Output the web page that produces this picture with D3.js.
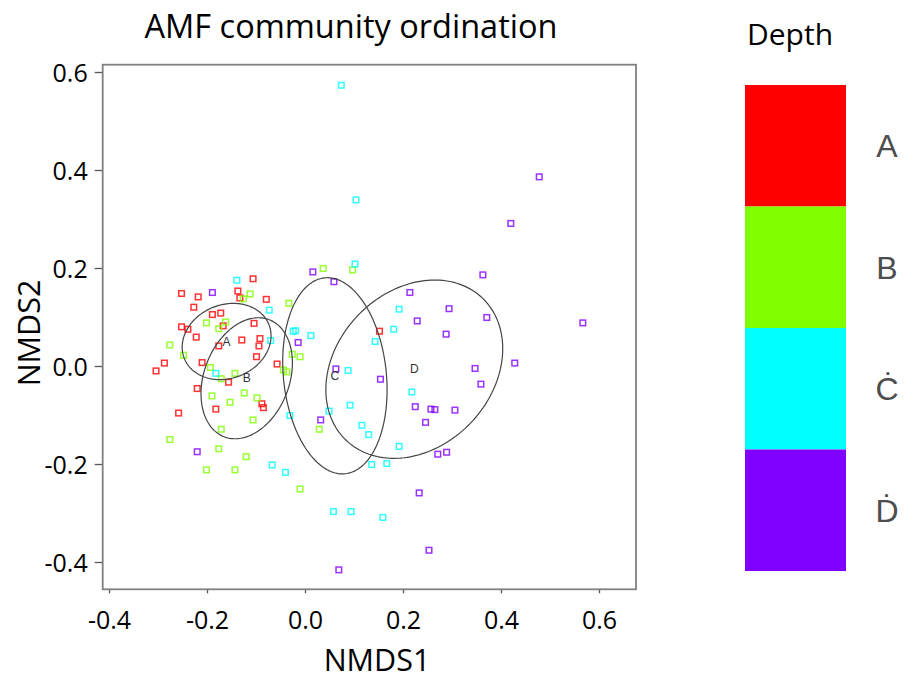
<!DOCTYPE html>
<html><head><meta charset="utf-8">
<script src="https://cdn.jsdelivr.net/npm/d3@7/dist/d3.min.js"></script>
<style>body{margin:0;background:#fff}</style>
</head><body><svg id="c" width="904" height="681"></svg>
<script>
// ---------- data ----------
const groups = ["A","B","C","D"];
const legendLabels = ["A","B","Ċ","Ḋ"];
const groupColors = ["#FF0000","#80FF00","#00FFFF","#8000FF"];
const xTicks = [-0.4,-0.2,0.0,0.2,0.4,0.6];
const yTicks = [-0.4,-0.2,0.0,0.2,0.4,0.6];

const pointsA = [[-0.106,0.178],[-0.252,0.148],[-0.218,0.141],[-0.137,0.153],[-0.133,0.139],[-0.079,0.136],
  [-0.227,0.120],[-0.189,0.105],[-0.172,0.108],[-0.167,0.082],[-0.104,0.087],[-0.252,0.080],[-0.239,0.075],
  [-0.222,0.059],[-0.129,0.053],[-0.092,0.056],[-0.094,0.041],[-0.176,0.041],[-0.099,0.019],[-0.210,0.007],
  [-0.287,0.006],[-0.304,-0.010],[-0.057,0.004],[-0.156,-0.033],[-0.220,-0.046],[-0.088,-0.077],[-0.085,-0.085],
  [-0.182,-0.088],[-0.258,-0.096],[0.152,0.071]];
const pointsB = [[-0.112,0.147],[-0.126,0.137],[-0.033,0.128],[-0.201,0.088],[-0.162,0.090],[-0.176,0.076],
  [-0.276,0.043],[-0.248,0.022],[-0.193,-0.003],[-0.171,-0.026],[-0.143,-0.015],[-0.124,-0.055],[-0.098,-0.065],
  [-0.190,-0.061],[-0.153,-0.074],[-0.106,-0.110],[-0.171,-0.129],[-0.276,-0.150],[-0.176,-0.169],[-0.120,-0.185],
  [-0.201,-0.212],[-0.143,-0.212],[-0.026,0.024],[-0.010,0.019],[-0.044,-0.008],[-0.037,-0.012],[0.037,0.199],
  [0.097,0.196],[0.029,-0.129],[-0.010,-0.251]];
const pointsC = [[-0.139,0.175],[-0.073,0.114],[-0.024,0.071],[-0.019,0.072],[-0.070,0.052],[-0.182,-0.015],
  [-0.031,-0.101],[-0.067,-0.202],[-0.040,-0.217],[0.102,0.208],[0.192,0.116],[0.181,0.075],[0.012,0.062],
  [0.143,0.050],[0.088,-0.009],[0.218,-0.053],[0.092,-0.080],[0.049,-0.092],[0.116,-0.121],[0.130,-0.140],
  [0.192,-0.164],[0.136,-0.201],[0.167,-0.199],[0.058,-0.297],[0.094,-0.297],[0.159,-0.309],[0.074,0.573],
  [0.104,0.339]];
const pointsD = [[-0.189,0.150],[-0.220,-0.175],[0.016,0.192],[0.059,0.172],[0.214,0.150],[0.294,0.117],
  [0.229,0.092],[0.288,0.065],[-0.014,0.048],[0.063,-0.006],[0.154,-0.027],[0.347,-0.005],[0.359,-0.037],
  [0.225,-0.083],[0.257,-0.088],[0.265,-0.089],[0.306,-0.090],[0.246,-0.115],[0.032,-0.110],[0.271,-0.180],
  [0.289,-0.176],[0.478,0.386],[0.420,0.291],[0.363,0.186],[0.371,0.099],[0.567,0.088],[0.428,0.006],
  [0.233,-0.259],[0.253,-0.376],[0.069,-0.416]];
const groupPoints = [pointsA, pointsB, pointsC, pointsD];

// ellipse centroids (data units), semi-axes (data units), rotation (degrees)
const ellipseCenters = [[-0.160,0.050],[-0.119,-0.025],[0.061,-0.020],[0.223,-0.0065]];
const ellipseAxes = [[0.093,0.075],[0.128,0.087],[0.201,0.105],[0.201,0.159]];
const ellipseAngles = [22,69,96,46];

// ---------- chart ----------
const svg = d3.select("#c");
const L = 102.7, R = 636, T = 64.7, B = 589.3;
const x = d3.scaleLinear().domain([-0.4129, 0.6755]).range([L, R]);
const y = d3.scaleLinear().domain([-0.4557, 0.6149]).range([B, T]);
const fmt = d => d.toFixed(1);
const sans = "'Open Sans', sans-serif";

svg.append("rect").attr("width",904).attr("height",681).attr("fill","#fff");

// title
svg.append("text").attr("x",351).attr("y",38).attr("text-anchor","middle")
  .attr("font-family",sans).attr("font-size",32.5).attr("fill","#000").text("AMF community ordination");

// axes
const gx = svg.append("g").attr("transform",`translate(0,${B})`)
  .call(d3.axisBottom(x).tickValues(xTicks).tickFormat(fmt).tickSize(4).tickSizeOuter(0));
gx.select(".domain").remove();
gx.selectAll("line").attr("stroke","#555").attr("stroke-width",1.3);
gx.selectAll("text").attr("y",40).attr("dy",null).attr("font-family",sans).attr("font-size",25).attr("fill","#000");

const gy = svg.append("g").attr("transform",`translate(${L},0)`)
  .call(d3.axisLeft(y).tickValues(yTicks).tickFormat(fmt).tickSize(8).tickSizeOuter(0));
gy.select(".domain").remove();
gy.selectAll("line").attr("stroke","#555").attr("stroke-width",1.3);
gy.selectAll("text").attr("x",-15).attr("dy","0.38em").attr("font-family",sans).attr("font-size",25).attr("fill","#000");

// frame
svg.append("rect").attr("x",L).attr("y",T).attr("width",R-L).attr("height",B-T)
  .attr("fill","none").attr("stroke","#808080").attr("stroke-width",1.8);

// axis titles
svg.append("text").attr("x",377).attr("y",671).attr("text-anchor","middle")
  .attr("font-family",sans).attr("font-size",30.5).attr("fill","#000").text("NMDS1");
svg.append("text").attr("transform","translate(40,333) rotate(-90)").attr("text-anchor","middle")
  .attr("font-family",sans).attr("font-size",30.5).attr("fill","#000").text("NMDS2");

// points
const plot = svg.append("g");
groupPoints.forEach((pts, gi) => {
  plot.selectAll(null).data(pts).enter().append("rect")
    .attr("x", d => x(d[0]) - 2.8).attr("y", d => y(d[1]) - 2.8)
    .attr("width",5.6).attr("height",5.6)
    .attr("fill","none").attr("stroke",groupColors[gi]).attr("stroke-width",1.5).attr("stroke-opacity",0.8);
});

// ellipses
const line = d3.line().x(d => x(d[0])).y(d => y(d[1])).curve(d3.curveLinearClosed);
groups.forEach((g, i) => {
  const [cx, cy] = ellipseCenters[i], [a, b] = ellipseAxes[i], th = ellipseAngles[i] * Math.PI / 180;
  const pts = d3.range(0, 360, 2).map(k => {
    const t = k * Math.PI / 180;
    return [cx + a*Math.cos(t)*Math.cos(th) - b*Math.sin(t)*Math.sin(th),
            cy + a*Math.cos(t)*Math.sin(th) + b*Math.sin(t)*Math.cos(th)];
  });
  svg.append("path").attr("d", line(pts)).attr("fill","none").attr("stroke","#444").attr("stroke-width",1.2);
  svg.append("text").attr("x", x(cx)).attr("y", y(cy)).attr("dy","0.35em").attr("text-anchor","middle")
    .attr("font-family","'Liberation Sans', Arial, sans-serif").attr("font-size",12).attr("fill","#333").text(g);
});

// legend
svg.append("text").attr("x",790).attr("y",45).attr("text-anchor","middle")
  .attr("font-family",sans).attr("font-size",30).attr("fill","#000").text("Depth");
const ly = d3.scaleBand().domain(groups).range([85, 571]).padding(0);
svg.selectAll(".lg").data(groups).enter().append("rect")
  .attr("x",745).attr("y", d => ly(d)).attr("width",101).attr("height", ly.bandwidth())
  .attr("fill", (d,i) => groupColors[i]);
svg.selectAll(".ll").data(groups).enter().append("text")
  .attr("x",887).attr("y", d => ly(d) + ly.bandwidth()/2).attr("dy","0.36em").attr("text-anchor","middle")
  .attr("font-family","'Liberation Sans', Arial, sans-serif").attr("font-size",32).attr("fill","#4d4d4d")
  .text((d,i) => legendLabels[i]);
</script></body></html>
